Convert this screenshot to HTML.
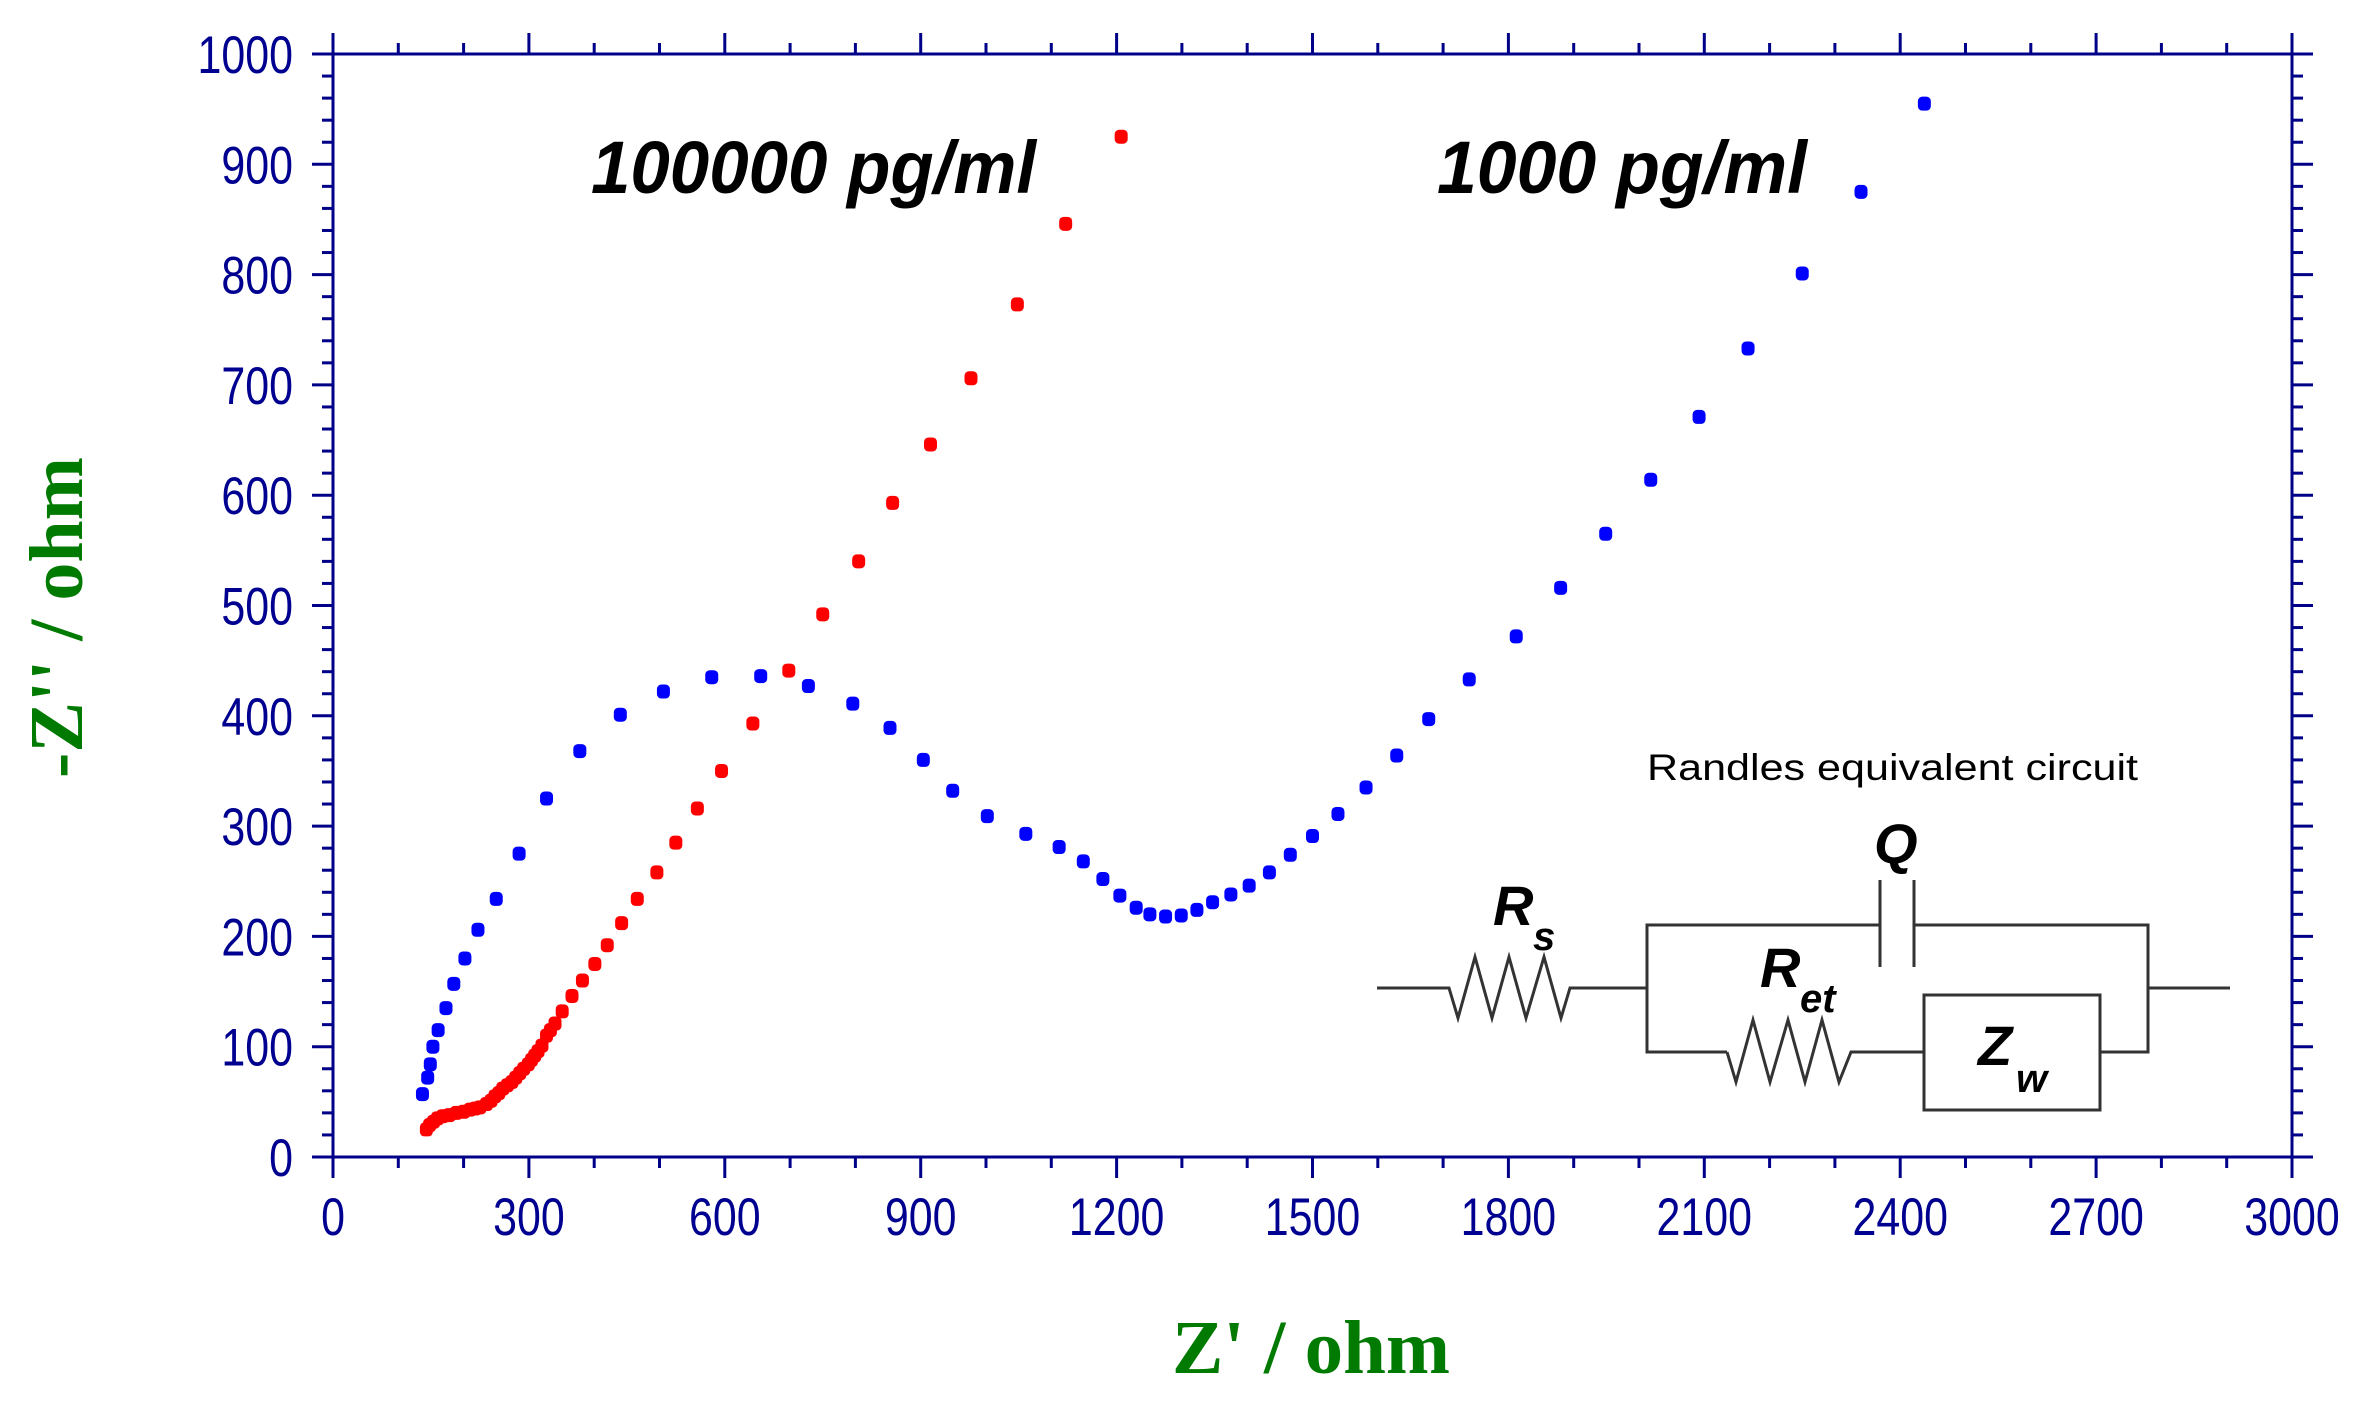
<!DOCTYPE html>
<html><head><meta charset="utf-8"><style>
html,body{margin:0;padding:0;background:#fff;}
svg{display:block;}
</style></head><body>
<svg id="chart" width="2354" height="1402" viewBox="0 0 2354 1402" xmlns="http://www.w3.org/2000/svg">
<g id="axes"></g>
<g id="series"></g>
<text x="591" y="193" font-family="Liberation Sans, sans-serif" font-weight="bold" font-style="italic" font-size="74" textLength="445" lengthAdjust="spacingAndGlyphs" fill="#000">100000 pg/ml</text>
<text x="1437" y="193" font-family="Liberation Sans, sans-serif" font-weight="bold" font-style="italic" font-size="74" textLength="370" lengthAdjust="spacingAndGlyphs" fill="#000">1000 pg/ml</text>
<text x="1172" y="1373" font-family="Liberation Serif, serif" font-weight="bold" font-size="76" textLength="278" lengthAdjust="spacingAndGlyphs" fill="#007a00">Z' / ohm</text>
<text transform="translate(82,778) rotate(-90)" x="0" y="0" font-family="Liberation Serif, serif" font-weight="bold" font-size="76" textLength="321" lengthAdjust="spacingAndGlyphs" fill="#007a00">-Z'' / ohm</text>
<g stroke="#333" stroke-width="3" fill="none">
<text x="1647" y="780" stroke="none" fill="#000" font-family="Liberation Sans, sans-serif" font-size="37" textLength="491" lengthAdjust="spacingAndGlyphs">Randles equivalent circuit</text>
<polyline points="1377,988 1449,988 1458,1018 1475,957 1492,1018 1509,957 1526,1018 1544,957 1561,1018 1570,988 1647,988"/>
<polyline points="1880,925 1647,925 1647,1052 1727,1052"/>
<line x1="1880" y1="880" x2="1880" y2="967"/>
<line x1="1914" y1="880" x2="1914" y2="967"/>
<polyline points="1914,925 2148,925 2148,1052 2100,1052"/>
<line x1="2148" y1="988" x2="2230" y2="988"/>
<polyline points="1727,1052 1736,1082 1753,1020 1770,1082 1788,1020 1805,1082 1822,1020 1839,1082 1851,1052 1924,1052"/>
<rect x="1924" y="995" width="176" height="115"/>
<g stroke="none" fill="#000" font-family="Liberation Sans, sans-serif" font-weight="bold" font-style="italic">
<text x="1493" y="925" font-size="56">R</text><text x="1533" y="950" font-size="40">s</text>
<text x="1874" y="863" font-size="56">Q</text>
<text x="1760" y="987" font-size="56">R</text><text x="1800" y="1012" font-size="40">et</text>
<text x="1978" y="1065" font-size="56">Z</text><text x="2016" y="1092" font-size="40">w</text>
</g>
</g>
</svg>
<script>
const xTicks = [0,300,600,900,1200,1500,1800,2100,2400,2700,3000];
const yTicks = [0,100,200,300,400,500,600,700,800,900,1000];
const blueX = [137,145,149,153,161,173,185,202,222,250,285,327,378,440,506,580,655,728,796,853,904,949,1002,1061,1112,1149,1179,1205,1230,1251,1275,1299,1323,1347,1375,1403,1434,1466,1500,1539,1582,1629,1678,1740,1812,1880,1949,2018,2092,2167,2250,2340,2437];
const blueY = [57,72,84,100,115,135,157,180,206,234,275,325,368,401,422,435,436,427,411,389,360,332,309,293,281,268,252,237,226,220,218,219,224,231,238,246,258,274,291,311,335,364,397,433,472,516,565,614,671,733,801,875,955];
const redX = [143,148,154,160,168,178,189,200,210,218,225,235,242,248,254,260,267,274,280,286,292,299,304,309,314,320,327,333,340,351,366,382,401,420,442,466,496,525,558,595,643,698,750,805,857,915,977,1048,1122,1207];
const redY = [25,29,32,35,37,38,40,41,43,44,45,48,51,55,58,62,65,68,72,76,80,84,88,92,96,101,110,115,121,132,146,160,175,192,212,234,258,285,316,350,393,441,492,540,593,646,706,773,846,925];

const X0=333, X1=2292, Y0=1157, Y1=54;
const sx = v => X0 + (v-0)/(3000-0)*(X1-X0);
const sy = v => Y0 - (v-0)/(1000-0)*(Y0-Y1);
const NS='http://www.w3.org/2000/svg';
const axes=document.getElementById('axes');
const series=document.getElementById('series');
const AX='#000088';
function mk(tag, attrs, parent){const e=document.createElementNS(NS,tag);for(const k in attrs)e.setAttribute(k,attrs[k]);parent.appendChild(e);return e;}

const frame = mk('rect',{x:X0,y:Y1,width:X1-X0,height:Y0-Y1,fill:'none',stroke:AX,'stroke-width':3},axes);



for(let v=0; v<=3000; v+=100){
  const major = v%300===0, L = major?21:11, x=sx(v);
  const tb = mk('line',{x1:x,y1:Y0,x2:x,y2:Y0+L,stroke:AX,'stroke-width':3},axes);
  
  
  const tt = mk('line',{x1:x,y1:Y1,x2:x,y2:Y1-L,stroke:AX,'stroke-width':3},axes);
  
  
}
for(let v=0; v<=1000; v+=20){
  const major = v%100===0, L = major?21:11, y=sy(v);
  const tl = mk('line',{x1:X0,y1:y,x2:X0-L,y2:y,stroke:AX,'stroke-width':3},axes);
  
  
  const tr = mk('line',{x1:X1,y1:y,x2:X1+L,y2:y,stroke:AX,'stroke-width':3},axes);
  
  
}
function label(txt, x, y, anchor){
  const g = mk('g',{transform:`translate(${x},${y}) scale(0.81,1)`},axes);
  const t = mk('text',{x:0,y:0,'text-anchor':anchor,'font-family':'Liberation Sans, sans-serif','font-size':53,fill:'#000090'},g);
  t.textContent = txt;
  return t;
}
xTicks.forEach(v=>{
  const t = label(String(v), sx(v), 1235, 'middle');
  
  
});
yTicks.forEach(v=>{
  const t = label(String(v), 293, sy(v)+19, 'end');
  
  
});

function pts(xs, ys, color, name){
  xs.forEach((v,i)=>{
    const r = mk('rect',{x:sx(v)-6.5,y:sy(ys[i])-7,width:13,height:14,rx:4.5,ry:4.5,fill:color},series);
    
    
  });
}
pts(redX, redY, '#ff0000', 'point-100000-pg-ml');
pts(blueX, blueY, '#0000ff', 'point-1000-pg-ml');
</script>
</body></html>
